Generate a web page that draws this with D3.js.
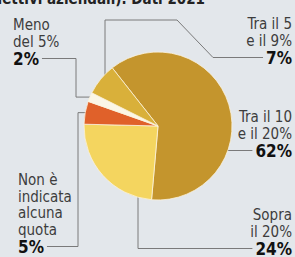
<!DOCTYPE html>
<html>
<head>
<meta charset="utf-8">
<script src="https://cdn.jsdelivr.net/npm/d3@7"></script>
<style>
	html, body { margin: 0; padding: 0; background: #e3e7eb; overflow: hidden; }
	svg { display: block; }
	.lbl { font-family: 'Liberation Sans Narrow', 'DejaVu Sans Condensed', sans-serif; font-size: 15px; fill: #3d3d3d; }
	.val { font-family: 'Liberation Sans Narrow', 'DejaVu Sans Condensed', sans-serif; font-size: 17px; font-weight: bold; fill: #111; }
	.title { font-family: 'Liberation Sans Narrow', 'DejaVu Sans Condensed', sans-serif; font-size: 15px; font-weight: bold; fill: #222; }
	.leader { fill: none; stroke: #7a7a7a; stroke-width: 1; }
</style>
</head>
<body>
<svg id="chart" width="295" height="257"></svg>
<script>
// data, clockwise from the top-left of the pie
const CATEGORIES = ['Tra il 10 e il 20%', 'Sopra il 20%', 'Non è indicata alcuna quota', 'Meno del 5%', 'Tra il 5 e il 9%'];
const SHARES = [62, 24, 5, 2, 7];
const LABEL_LINES = [['Tra il 10', 'e il 20%'], ['Sopra', 'il 20%'], ['Non è', 'indicata', 'alcuna', 'quota'], ['Meno', 'del 5%'], ['Tra il 5', 'e il 9%']];
const VALUE_LABELS = ['62%', '24%', '5%', '2%', '7%'];
const TITLE = 'collettivi aziendali). Dati 2021';

const COLORS = ['#c4952d', '#f4d55f', '#e0612a', '#fbf6e6', '#d9b03a'];
const CX = 158;
const CY = 126;
const R = 74;
const LINE_H = 16.5;
const VALUE_GAP = 18;

// where each label block sits (first baseline)
const LABEL_POS = [
	{ x: 292, y: 122, anchor: 'end' },
	{ x: 292, y: 220, anchor: 'end' },
	{ x: 18, y: 185, anchor: 'start' },
	{ x: 13, y: 30, anchor: 'start' },
	{ x: 292, y: 29, anchor: 'end' }
];

const svg = d3.select('#chart');

svg.append('text').attr('class', 'title').attr('x', 205).attr('y', 4).attr('text-anchor', 'end').text(TITLE);

const startA = -38.2 * Math.PI / 180;
const pie = d3.pie().sort(null).startAngle(startA).endAngle(startA + 2 * Math.PI);
const arcs = pie(SHARES);
const arc = d3.arc().innerRadius(0).outerRadius(R);
const onArc = (a, r) => [ CX + r * Math.sin(a), CY - r * Math.cos(a) ];

const leaderG = svg.append('g');
const labelG = svg.append('g');

arcs.forEach((d, i) => {
	const pos = LABEL_POS[i];
	const g = labelG.append('g');
	LABEL_LINES[i].forEach((line, j) => {
		g.append('text').attr('class', 'lbl').attr('x', pos.x).attr('y', pos.y + j * LINE_H).attr('text-anchor', pos.anchor).text(line);
	});
	const vy = pos.y + (LABEL_LINES[i].length - 1) * LINE_H + VALUE_GAP;
	const val = g.append('text').attr('class', 'val').attr('x', pos.x).attr('y', vy).attr('text-anchor', pos.anchor).text(VALUE_LABELS[i]);
	const len = val.node().getComputedTextLength();
	const ly = vy - 6;
	const mid = (d.startAngle + d.endAngle) / 2;
	let pts;
	if (i === 0) {
		pts = [ [ pos.x - len - 3, ly ], [ CX, ly ] ];
	} else if (i === 1) {
		pts = [ [ pos.x - len - 3, ly ], [ 138, ly ], [ 138, CY ] ];
	} else if (i === 2) {
		const p = onArc(mid, R);
		pts = [ [ pos.x + len + 3, ly ], [ 78, ly ], [ 78, p[1] ], [ CX, p[1] ] ];
	} else if (i === 3) {
		const p = onArc(mid, R);
		pts = [ [ pos.x + len + 3, ly ], [ 76, ly ], [ 76, p[1] ], [ CX, p[1] ] ];
	} else {
		pts = [ [ pos.x - len - 3, ly ], [ 213, ly ], [ 177, 20 ], [ 105, 20 ], [ 105, CY ] ];
	}
	leaderG.append('path').attr('class', 'leader').attr('d', d3.line()(pts));
});

svg
	.append('g')
	.attr('transform', 'translate(' + CX + ',' + CY + ')')
	.selectAll('path')
	.data(arcs)
	.enter()
	.append('path')
	.attr('d', arc)
	.attr('fill', (d, i) => COLORS[i])
	.attr('stroke', '#fbf3dc')
	.attr('stroke-width', 0.8);
</script>
</body>
</html>
